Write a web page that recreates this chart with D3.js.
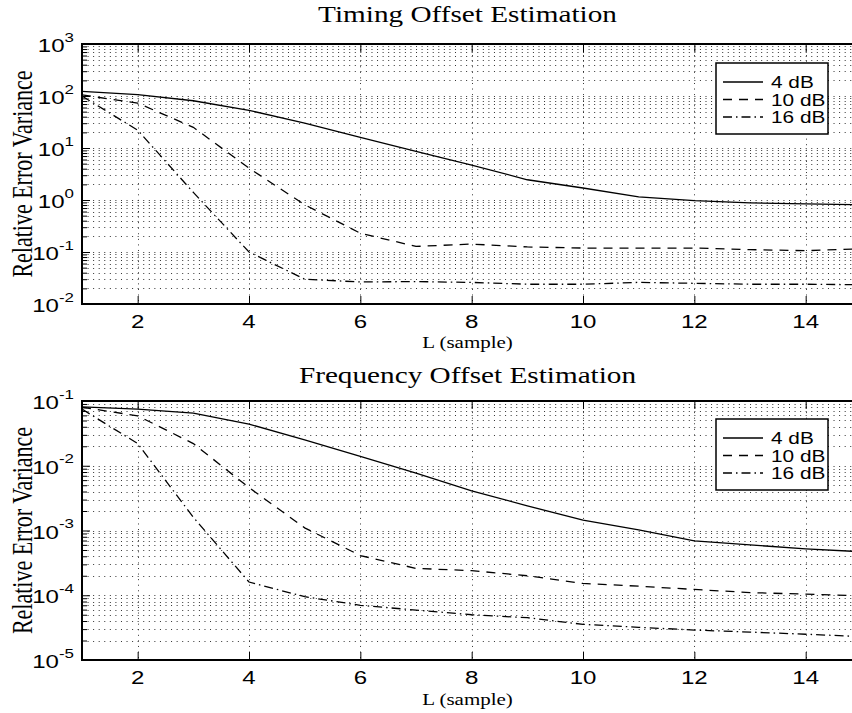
<!DOCTYPE html>
<html>
<head>
<meta charset="utf-8">
<script src="https://cdn.jsdelivr.net/npm/d3@7/dist/d3.min.js"></script>
<style>
  body { margin: 0; background: #fff; }
  svg { display: block; }
</style>
</head>
<body>
<svg id="chart" width="852" height="713"></svg>
<script>
// Window length L (samples)
const L = [1, 2, 3, 4, 5, 6, 7, 8, 9, 10, 11, 12, 13, 14, 15];

// Timing offset estimation: relative error variance per SNR
const timing4dB  = [123, 106, 81, 53, 30, 16, 8.6, 4.7, 2.45, 1.7, 1.15, 0.97, 0.88, 0.84, 0.81];
const timing10dB = [105, 73, 25, 4.1, 0.81, 0.23, 0.128, 0.142, 0.125, 0.119, 0.119, 0.119, 0.111, 0.106, 0.115];
const timing16dB = [100, 22, 1.4, 0.1, 0.03, 0.0265, 0.027, 0.026, 0.024, 0.024, 0.026, 0.025, 0.024, 0.024, 0.0235];

// Frequency offset estimation: relative error variance per SNR
const freq4dB  = [0.081, 0.075, 0.065, 0.044, 0.025, 0.014, 0.0077, 0.0041, 0.0024, 0.00145, 0.00102, 0.00069, 0.0006, 0.00052, 0.00047];
const freq10dB = [0.08, 0.059, 0.022, 0.0046, 0.0011, 0.00041, 0.00026, 0.00024, 0.0002, 0.000152, 0.000138, 0.000123, 0.00011, 0.000104, 0.000098];
const freq16dB = [0.075, 0.022, 0.0016, 0.00016, 0.000095, 0.00007, 0.000059, 0.00005, 0.000045, 0.0000355, 0.000032, 0.000029, 0.000027, 0.000025, 0.000023];

const seriesNames = ["4 dB", "10 dB", "16 dB"];
const xTickValues = [2, 4, 6, 8, 10, 12, 14];
const timingExponents = [-2, -1, 0, 1, 2, 3];
const freqExponents = [-5, -4, -3, -2, -1];

const svg = d3.select("#chart");
svg.append("rect").attr("width", 852).attr("height", 713).attr("fill", "#fff");

// Line styles: solid, dashed, dash-dot
const dashStyles = [null, "9,7", "9,4,1.5,4"];

const SERIF = "'Liberation Serif', 'Times New Roman', serif";
const SANS = "'Liberation Sans', Arial, sans-serif";
// the figure's lettering is set wide
const WIDE = 1.3;

function drawPanel(cfg) {
  const { top, bottom, expMin, expMax, series, exponents, title, titleY, xlabelY, legendTop, id } = cfg;
  const left = 82, right = 853;
  const x = d3.scaleLinear().domain([1, 14.85]).range([left, right]);
  const y = d3.scaleLog().domain([Math.pow(10, expMin), Math.pow(10, expMax)]).range([bottom, top]);

  const g = svg.append("g");

  // clip for plot area
  svg.append("clipPath").attr("id", "clip" + id)
    .append("rect").attr("x", left).attr("y", top).attr("width", right - left).attr("height", bottom - top);

  // grid: horizontal log lines (decades + minor)
  const gridVals = [];
  for (let e = expMin; e < expMax; e++) {
    for (let m = 1; m <= 9; m++) gridVals.push(m * Math.pow(10, e));
  }
  const grid = g.append("g").attr("stroke", "#333").attr("stroke-width", 1)
    .attr("stroke-dasharray", "1,4.567").attr("fill", "none");
  grid.selectAll("line.h").data(gridVals.filter(v => y(v) < bottom - 0.5)).join("line")
    .attr("class", "h")
    .attr("x1", left).attr("x2", right)
    .attr("y1", d => Math.round(y(d)) + 0.5).attr("y2", d => Math.round(y(d)) + 0.5);
  grid.selectAll("line.v").data(xTickValues).join("line")
    .attr("class", "v")
    .attr("x1", d => Math.round(x(d)) + 0.5).attr("x2", d => Math.round(x(d)) + 0.5)
    .attr("y1", top).attr("y2", bottom);

  // curves
  const line = d3.line().x((d, i) => x(L[i])).y(d => y(d));
  const curves = g.append("g").attr("clip-path", `url(#clip${id})`);
  series.forEach((s, k) => {
    curves.append("path").datum(s)
      .attr("d", line)
      .attr("fill", "none")
      .attr("stroke", "#000")
      .attr("stroke-width", 1.3)
      .attr("stroke-dasharray", dashStyles[k]);
  });

  // axes box
  const ax = g.append("g").attr("stroke", "#000").attr("fill", "none");
  ax.append("rect").attr("x", left).attr("y", top).attr("width", right - left).attr("height", bottom - top)
    .attr("stroke-width", 2);

  // x ticks (bottom and top, inward)
  const xAxisB = d3.axisBottom(x).tickValues(xTickValues).tickSize(-8).tickFormat("").tickSizeOuter(0);
  const xAxisT = d3.axisTop(x).tickValues(xTickValues).tickSize(-8).tickFormat("").tickSizeOuter(0);
  const xb = g.append("g").attr("transform", `translate(0,${bottom})`).call(xAxisB);
  const xt = g.append("g").attr("transform", `translate(0,${top})`).call(xAxisT);
  [xb, xt].forEach(a => { a.select(".domain").remove(); a.selectAll("line").attr("stroke", "#000").attr("stroke-width", 1); });

  // x tick labels
  g.append("g").selectAll("text").data(xTickValues).join("text")
    .attr("transform", d => `translate(${x(d)},${bottom + 24}) scale(${WIDE},1)`)
    .attr("text-anchor", "middle")
    .attr("font-family", SANS).attr("font-size", 18.5)
    .text(d => d);

  // y ticks: decades (major) and minor
  const majors = exponents.map(e => Math.pow(10, e));
  const minors = gridVals.filter(v => !majors.some(m => Math.abs(m - v) / v < 1e-9));
  const yAxisMaj = d3.axisLeft(y).tickValues(majors).tickSize(-8).tickFormat("").tickSizeOuter(0);
  const yAxisMin = d3.axisLeft(y).tickValues(minors).tickSize(-5).tickFormat("").tickSizeOuter(0);
  [yAxisMaj, yAxisMin].forEach(a => {
    const s = g.append("g").attr("transform", `translate(${left},0)`).call(a);
    s.select(".domain").remove();
    s.selectAll("line").attr("stroke", "#000").attr("stroke-width", 1);
  });

  // y tick labels as 10^e
  const yl = g.append("g").selectAll("text").data(exponents).join("text")
    .attr("transform", d => `translate(74,${y(Math.pow(10, d)) + 8}) scale(${WIDE},1)`)
    .attr("text-anchor", "end")
    .attr("font-family", SANS).attr("font-size", 18.5);
  yl.append("tspan").text("10");
  yl.append("tspan").attr("dy", -10.5).attr("font-size", 13).text(d => d < 0 ? "-" + Math.abs(d) : d);

  // title and axis labels
  g.append("text")
    .attr("transform", `translate(${(left + right) / 2},${titleY}) scale(${WIDE},1)`)
    .attr("text-anchor", "middle").attr("font-family", SERIF).attr("font-size", 22.5).text(title);
  g.append("text")
    .attr("transform", `translate(${(left + right) / 2},${xlabelY}) scale(1.2,1)`)
    .attr("text-anchor", "middle").attr("font-family", SERIF).attr("font-size", 17.5).text("L (sample)");
  g.append("text")
    .attr("transform", `translate(32,${(top + bottom) / 2}) scale(${WIDE},1) rotate(-90)`)
    .attr("text-anchor", "middle").attr("font-family", SERIF).attr("font-size", 22)
    .text("Relative Error Variance");

  // legend
  const lg = g.append("g").attr("transform", `translate(716,${legendTop})`);
  lg.append("rect").attr("x", 0).attr("y", 0).attr("width", 112).attr("height", 71)
    .attr("fill", "#fff").attr("stroke", "#000").attr("stroke-width", 1.5);
  seriesNames.forEach((name, k) => {
    const cy = 19 + k * 17.5;
    lg.append("line").attr("x1", 7).attr("x2", 47).attr("y1", cy).attr("y2", cy)
      .attr("stroke", "#000").attr("stroke-width", 1.3).attr("stroke-dasharray", dashStyles[k]);
    lg.append("text")
      .attr("transform", `translate(55,${cy + 6}) scale(${WIDE},1)`)
      .attr("font-family", SANS).attr("font-size", 16).text(name);
  });
}

drawPanel({
  id: "t", top: 44, bottom: 304, expMin: -2, expMax: 3,
  series: [timing4dB, timing10dB, timing16dB], exponents: timingExponents,
  title: "Timing Offset Estimation", titleY: 22, xlabelY: 348, legendTop: 63
});
drawPanel({
  id: "f", top: 401, bottom: 660, expMin: -5, expMax: -1,
  series: [freq4dB, freq10dB, freq16dB], exponents: freqExponents,
  title: "Frequency Offset Estimation", titleY: 383, xlabelY: 705, legendTop: 419
});
</script>
</body>
</html>
